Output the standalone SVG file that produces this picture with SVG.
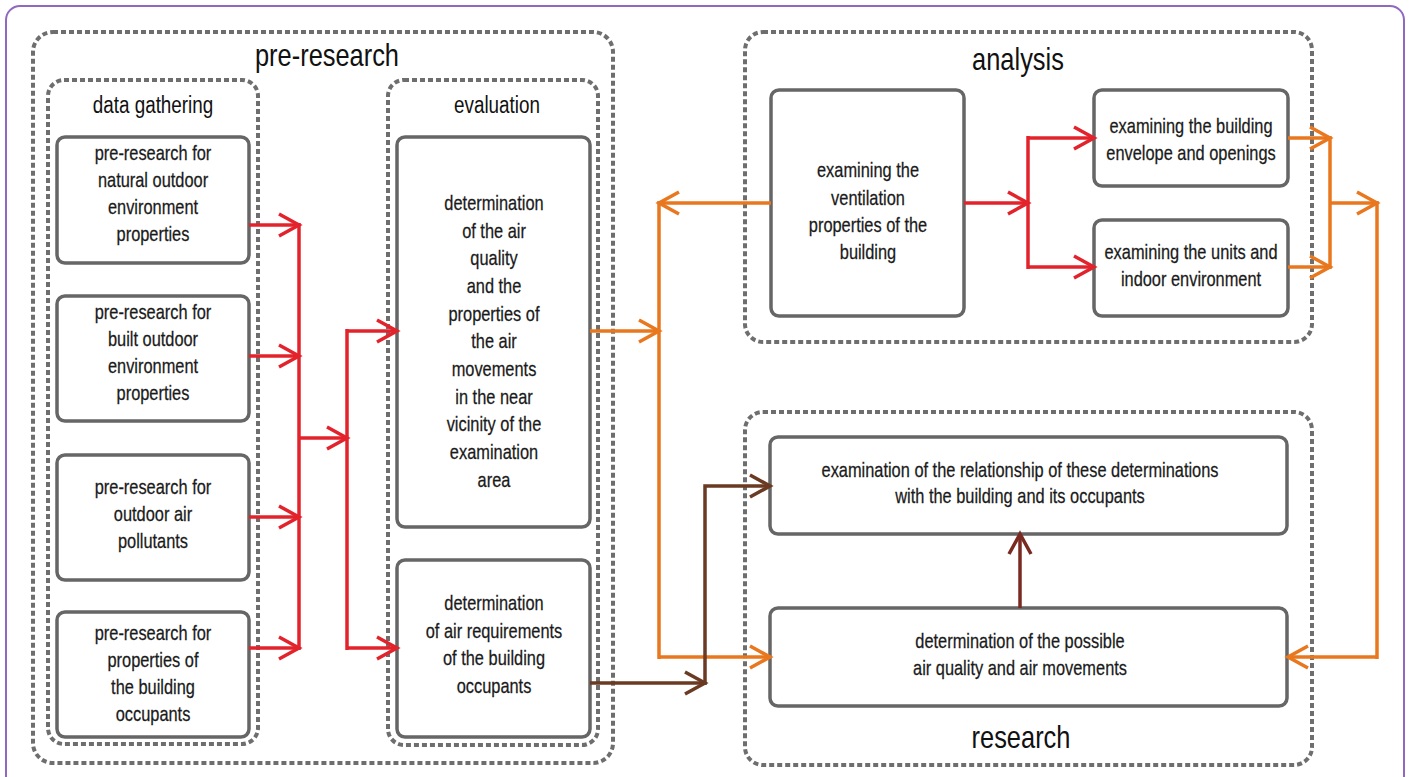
<svg xmlns="http://www.w3.org/2000/svg" width="1410" height="777" viewBox="0 0 1410 777">
<style>
.frame{fill:none;stroke:#9068c0;stroke-width:2}
.cont{fill:none;stroke:#6e6e6e;stroke-width:4;stroke-dasharray:5 3}
.node{fill:#fff;stroke:#666;stroke-width:3.5}
.t{font-family:"Liberation Sans",Arial,sans-serif;font-size:20px;fill:#1a1a1a;stroke:#1a1a1a;stroke-width:0.25;text-anchor:middle}
.lbl{font-family:"Liberation Sans",Arial,sans-serif;font-size:31px;fill:#111;text-anchor:middle}
.sub{font-family:"Liberation Sans",Arial,sans-serif;font-size:23px;fill:#111;text-anchor:middle}
.red{fill:none;stroke:#e3232b;stroke-width:3.5}
.org{fill:none;stroke:#e8771e;stroke-width:3.5}
.brn{fill:none;stroke:#6b3a22;stroke-width:3.5}
.dbr{fill:none;stroke:#7a2a20;stroke-width:3.5}
</style>
<defs>
<marker id="ar" markerUnits="userSpaceOnUse" markerWidth="30" markerHeight="30" viewBox="-26 -15 30 30" refX="0" refY="0" orient="auto"><path d="M-20,-11 L0,0 L-20,11" fill="none" stroke="#e3232b" stroke-width="3.5"/></marker>
<marker id="ao" markerUnits="userSpaceOnUse" markerWidth="30" markerHeight="30" viewBox="-26 -15 30 30" refX="0" refY="0" orient="auto"><path d="M-20,-11 L0,0 L-20,11" fill="none" stroke="#e8771e" stroke-width="3.5"/></marker>
<marker id="ab" markerUnits="userSpaceOnUse" markerWidth="30" markerHeight="30" viewBox="-26 -15 30 30" refX="0" refY="0" orient="auto"><path d="M-20,-11 L0,0 L-20,11" fill="none" stroke="#6b3a22" stroke-width="3.5"/></marker>
<marker id="ad" markerUnits="userSpaceOnUse" markerWidth="30" markerHeight="30" viewBox="-26 -15 30 30" refX="0" refY="0" orient="auto"><path d="M-20,-11 L0,0 L-20,11" fill="none" stroke="#7a2a20" stroke-width="3.5"/></marker>
</defs>
<rect x="0" y="0" width="1410" height="777" fill="#fff"/>
<rect class="frame" x="6" y="6" width="1398" height="800" rx="14"/>

<g id="pre-research">
<rect class="cont" x="33" y="32" width="580" height="731" rx="20"/>
<text class="lbl" transform="translate(327,66) scale(0.82,1)">pre-research</text>
</g>
<g id="data-gathering">
<rect class="cont" x="48" y="80" width="210" height="664" rx="16"/>
<text class="sub" transform="translate(153,113) scale(0.82,1)">data gathering</text>
</g>
<g id="evaluation">
<rect class="cont" x="388" y="80" width="210" height="665" rx="16"/>
<text class="sub" transform="translate(497,113) scale(0.82,1)">evaluation</text>
</g>
<g id="analysis">
<rect class="cont" x="745" y="32" width="567" height="310" rx="18"/>
<text class="lbl" transform="translate(1018,70) scale(0.82,1)">analysis</text>
</g>
<g id="research">
<rect class="cont" x="745" y="412" width="567" height="353" rx="18"/>
<text class="lbl" transform="translate(1021,748) scale(0.82,1)">research</text>
</g>

<g id="n-natural">
<rect class="node" x="57" y="137" width="192" height="126" rx="8"/>
<text class="t" transform="translate(153,0) scale(0.82,1)"><tspan x="0" y="160">pre-research for</tspan><tspan x="0" y="187">natural outdoor</tspan><tspan x="0" y="214">environment</tspan><tspan x="0" y="241">properties</tspan></text>
</g>
<g id="n-built">
<rect class="node" x="57" y="296" width="192" height="125" rx="8"/>
<text class="t" transform="translate(153,0) scale(0.82,1)"><tspan x="0" y="319">pre-research for</tspan><tspan x="0" y="346">built outdoor</tspan><tspan x="0" y="373">environment</tspan><tspan x="0" y="400">properties</tspan></text>
</g>
<g id="n-pollutants">
<rect class="node" x="57" y="455" width="192" height="125" rx="8"/>
<text class="t" transform="translate(153,0) scale(0.82,1)"><tspan x="0" y="494">pre-research for</tspan><tspan x="0" y="521">outdoor air</tspan><tspan x="0" y="548">pollutants</tspan></text>
</g>
<g id="n-occupants">
<rect class="node" x="57" y="612" width="192" height="125" rx="8"/>
<text class="t" transform="translate(153,0) scale(0.82,1)"><tspan x="0" y="640">pre-research for</tspan><tspan x="0" y="667">properties of</tspan><tspan x="0" y="694">the building</tspan><tspan x="0" y="721">occupants</tspan></text>
</g>

<g id="n-airquality">
<rect class="node" x="397" y="137" width="193" height="390" rx="8"/>
<text class="t" transform="translate(494,0) scale(0.82,1)"><tspan x="0" y="210">determination</tspan><tspan x="0" y="238">of the air</tspan><tspan x="0" y="265">quality</tspan><tspan x="0" y="293">and the</tspan><tspan x="0" y="321">properties of</tspan><tspan x="0" y="348">the air</tspan><tspan x="0" y="376">movements</tspan><tspan x="0" y="404">in the near</tspan><tspan x="0" y="431">vicinity of the</tspan><tspan x="0" y="459">examination</tspan><tspan x="0" y="487">area</tspan></text>
</g>
<g id="n-requirements">
<rect class="node" x="397" y="560" width="193" height="177" rx="8"/>
<text class="t" transform="translate(494,0) scale(0.82,1)"><tspan x="0" y="610">determination</tspan><tspan x="0" y="638">of air requirements</tspan><tspan x="0" y="665">of the building</tspan><tspan x="0" y="693">occupants</tspan></text>
</g>

<g id="n-ventilation">
<rect class="node" x="771" y="90" width="193" height="226" rx="8"/>
<text class="t" transform="translate(868,0) scale(0.82,1)"><tspan x="0" y="177">examining the</tspan><tspan x="0" y="205">ventilation</tspan><tspan x="0" y="232">properties of the</tspan><tspan x="0" y="259">building</tspan></text>
</g>
<g id="n-envelope">
<rect class="node" x="1094" y="90" width="194" height="96" rx="8"/>
<text class="t" transform="translate(1191,0) scale(0.82,1)"><tspan x="0" y="133">examining the building</tspan><tspan x="0" y="160">envelope and openings</tspan></text>
</g>
<g id="n-units">
<rect class="node" x="1094" y="220" width="194" height="96" rx="8"/>
<text class="t" transform="translate(1191,0) scale(0.82,1)"><tspan x="0" y="259">examining the units and</tspan><tspan x="0" y="286">indoor environment</tspan></text>
</g>
<g id="n-relationship">
<rect class="node" x="770" y="437" width="517" height="97" rx="8"/>
<text class="t" transform="translate(1020,0) scale(0.82,1)"><tspan x="0" y="477">examination of the relationship of these determinations</tspan><tspan x="0" y="503">with the building and its occupants</tspan></text>
</g>
<g id="n-possible">
<rect class="node" x="770" y="608" width="517" height="98" rx="8"/>
<text class="t" transform="translate(1020,0) scale(0.82,1)"><tspan x="0" y="648">determination of the possible</tspan><tspan x="0" y="675">air quality and air movements</tspan></text>
</g>

<g id="connectors">
<path class="red" d="M249,225 H299" marker-end="url(#ar)"/>
<path class="red" d="M249,356 H299" marker-end="url(#ar)"/>
<path class="red" d="M249,517 H299" marker-end="url(#ar)"/>
<path class="red" d="M249,648 H299" marker-end="url(#ar)"/>
<path class="red" d="M299,223 V650"/>
<path class="red" d="M299,438 H347" marker-end="url(#ar)"/>
<path class="red" d="M347,329 V650"/>
<path class="red" d="M347,331 H397" marker-end="url(#ar)"/>
<path class="red" d="M347,648 H397" marker-end="url(#ar)"/>
<path class="red" d="M964,203 H1028" marker-end="url(#ar)"/>
<path class="red" d="M1028,136 V269"/>
<path class="red" d="M1028,138 H1094" marker-end="url(#ar)"/>
<path class="red" d="M1028,267 H1094" marker-end="url(#ar)"/>

<path class="org" d="M1288,138 H1330" marker-end="url(#ao)"/>
<path class="org" d="M1288,267 H1330" marker-end="url(#ao)"/>
<path class="org" d="M1330,136 V269"/>
<path class="org" d="M1330,203 H1377" marker-end="url(#ao)"/>
<path class="org" d="M1377,201 V659"/>
<path class="org" d="M1377,657 H1288" marker-end="url(#ao)"/>
<path class="org" d="M771,203 H659" marker-end="url(#ao)"/>
<path class="org" d="M659,201 V659"/>
<path class="org" d="M590,331 H659" marker-end="url(#ao)"/>
<path class="org" d="M659,657 H770" marker-end="url(#ao)"/>

<path class="brn" d="M590,683 H705" marker-end="url(#ab)"/>
<path class="brn" d="M705,685 V486 H770" marker-end="url(#ab)"/>
<path class="dbr" d="M1020,608 V534" marker-end="url(#ad)"/>
</g>
</svg>
